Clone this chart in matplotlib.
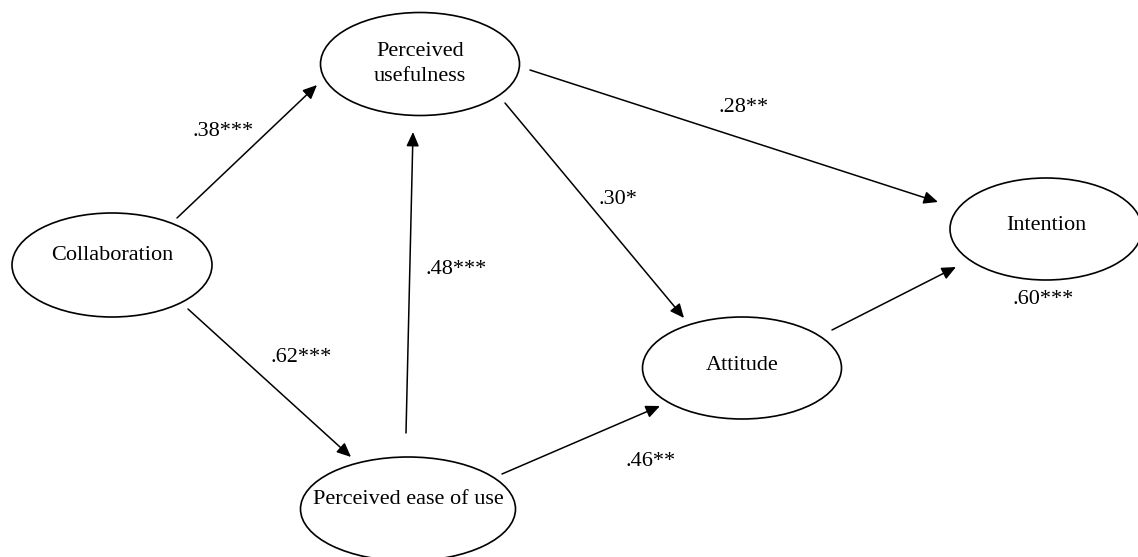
import matplotlib
matplotlib.use("Agg")
import matplotlib.pyplot as plt
from matplotlib.patches import Ellipse

plt.rcParams['font.family'] = ['Liberation Serif', 'DejaVu Serif']

# nodes of the path model
node_names = ["Collaboration", "Perceived\nusefulness", "Perceived ease of use",
              "Attitude", "Intention"]

# paths: source index, target index, coefficient label
path_from = [0, 0, 2, 1, 1, 2, 3]
path_to = [1, 2, 1, 3, 4, 3, 4]
path_labels = [".38***", ".62***", ".48***", ".30*", ".28**", ".46**", ".60***"]

# layout in pixel space (y grows downward)
W, H = 1138, 557
node_xy = [(112, 265), (420, 64), (408, 509), (742, 368), (1046, 229)]
node_wh = [(200, 104), (199, 103), (215, 104), (199, 102), (192, 102)]
text_dy = [-9, 0, -10, -2, -4]

arrow_start = [(177, 218), (188, 309), (406, 433), (505, 103), (530, 70), (502, 474), (832, 330)]
arrow_end = [(317, 85), (351, 457), (413, 132), (684, 318), (938, 202), (660, 406), (956, 267)]
label_xy = [(223, 131), (301, 357), (456, 270), (618, 200), (744, 107), (651, 462), (1043, 300)]

fig = plt.figure(figsize=(W / 100, H / 100), dpi=100)
ax = fig.add_axes([0, 0, 1, 1])
ax.set_xlim(0, W)
ax.set_ylim(H, 0)
ax.axis("off")

for name, (x, y), (w, h), dy in zip(node_names, node_xy, node_wh, text_dy):
    ax.add_patch(Ellipse((x, y), w, h, facecolor="white", edgecolor="black", lw=1.2))
    ax.text(x, y + dy, name, ha="center", va="center", fontsize=16,
            linespacing=1.4, color="black")

for i in range(len(path_labels)):
    ax.annotate("", xy=arrow_end[i], xytext=arrow_start[i],
                arrowprops=dict(arrowstyle="-|>,head_length=0.85,head_width=0.38",
                                mutation_scale=10, color="black", lw=1.1,
                                shrinkA=0, shrinkB=0))
    ax.text(label_xy[i][0], label_xy[i][1], path_labels[i], ha="center", va="center",
            fontsize=16, color="black")

fig.savefig("out.png", dpi=100)
